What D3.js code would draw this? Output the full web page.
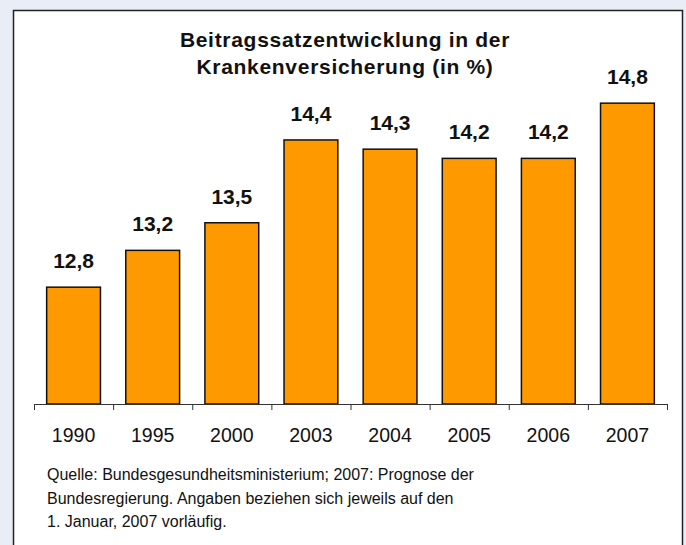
<!DOCTYPE html>
<html>
<head>
<meta charset="utf-8">
<script src="https://cdn.jsdelivr.net/npm/d3@7"></script>
<style>
  body { margin: 0; background: #e9edf5; }
  svg { display: block; }
</style>
</head>
<body>
<svg width="686" height="545"></svg>
<script>
const years = ["1990", "1995", "2000", "2003", "2004", "2005", "2006", "2007"];
const rates = [12.8, 13.2, 13.5, 14.4, 14.3, 14.2, 14.2, 14.8];
const titleLines = ["Beitragssatzentwicklung in der", "Krankenversicherung (in %)"];
const noteLines = [
    "Quelle: Bundesgesundheitsministerium; 2007: Prognose der",
    "Bundesregierung. Angaben beziehen sich jeweils auf den",
    "1. Januar, 2007 vorläufig."
];

const svg = d3.select("svg");
const font = "Arial, 'Liberation Sans', sans-serif";

// chart frame
svg.append("rect")
    .attr("x", 13.5).attr("y", 10.5)
    .attr("width", 669).attr("height", 545)
    .attr("fill", "white")
    .attr("stroke", "#222")
    .attr("stroke-width", 1.5);

const x = d3.scaleBand()
    .domain(years)
    .range([34, 667])
    .paddingInner(0.32)
    .paddingOuter(0.16);

const yMin = 11.53;
const y = d3.scaleLinear()
    .domain([yMin, 15])
    .range([404, 404 - (15 - yMin) * 92]);

svg.append("g")
    .selectAll("text")
    .data(titleLines)
    .join("text")
    .attr("x", 345)
    .attr("y", (d, i) => 47 + i * 27)
    .attr("text-anchor", "middle")
    .attr("font-family", font)
    .attr("font-weight", 700)
    .attr("font-size", 21)
    .attr("letter-spacing", 0.7)
    .attr("fill", "#111")
    .text(d => d);

svg.append("g")
    .selectAll("rect")
    .data(rates)
    .join("rect")
    .attr("x", (d, i) => x(years[i]))
    .attr("y", d => y(d))
    .attr("width", x.bandwidth())
    .attr("height", d => y(yMin) - y(d))
    .attr("fill", "#ff9900")
    .attr("stroke", "#111")
    .attr("stroke-width", 1.5);

svg.append("g")
    .selectAll("text")
    .data(rates)
    .join("text")
    .attr("x", (d, i) => x(years[i]) + x.bandwidth() / 2)
    .attr("y", d => y(d) - 19)
    .attr("text-anchor", "middle")
    .attr("font-family", font)
    .attr("font-weight", 700)
    .attr("font-size", 21)
    .attr("fill", "#111")
    .text(d => d.toFixed(1).replace(".", ","));

// category axis with ticks between categories
const axis = svg.append("g");
axis.append("line")
    .attr("x1", 34).attr("x2", 667)
    .attr("y1", 404.5).attr("y2", 404.5)
    .attr("stroke", "#333");
const step = x.step();
axis.selectAll(".tick")
    .data(d3.range(years.length + 1))
    .join("line")
    .attr("class", "tick")
    .attr("x1", i => 34.5 + i * step)
    .attr("x2", i => 34.5 + i * step)
    .attr("y1", 404).attr("y2", 410)
    .attr("stroke", "#333");
axis.selectAll("text")
    .data(years)
    .join("text")
    .attr("x", d => x(d) + x.bandwidth() / 2)
    .attr("y", 442)
    .attr("text-anchor", "middle")
    .attr("font-family", font)
    .attr("font-size", 19.5)
    .attr("fill", "#111")
    .text(d => d);

svg.append("g")
    .selectAll("text")
    .data(noteLines)
    .join("text")
    .attr("x", 47)
    .attr("y", (d, i) => 480 + i * 23.5)
    .attr("font-family", font)
    .attr("font-size", 16)
    .attr("fill", "#111")
    .text(d => d);
</script>
</body>
</html>
